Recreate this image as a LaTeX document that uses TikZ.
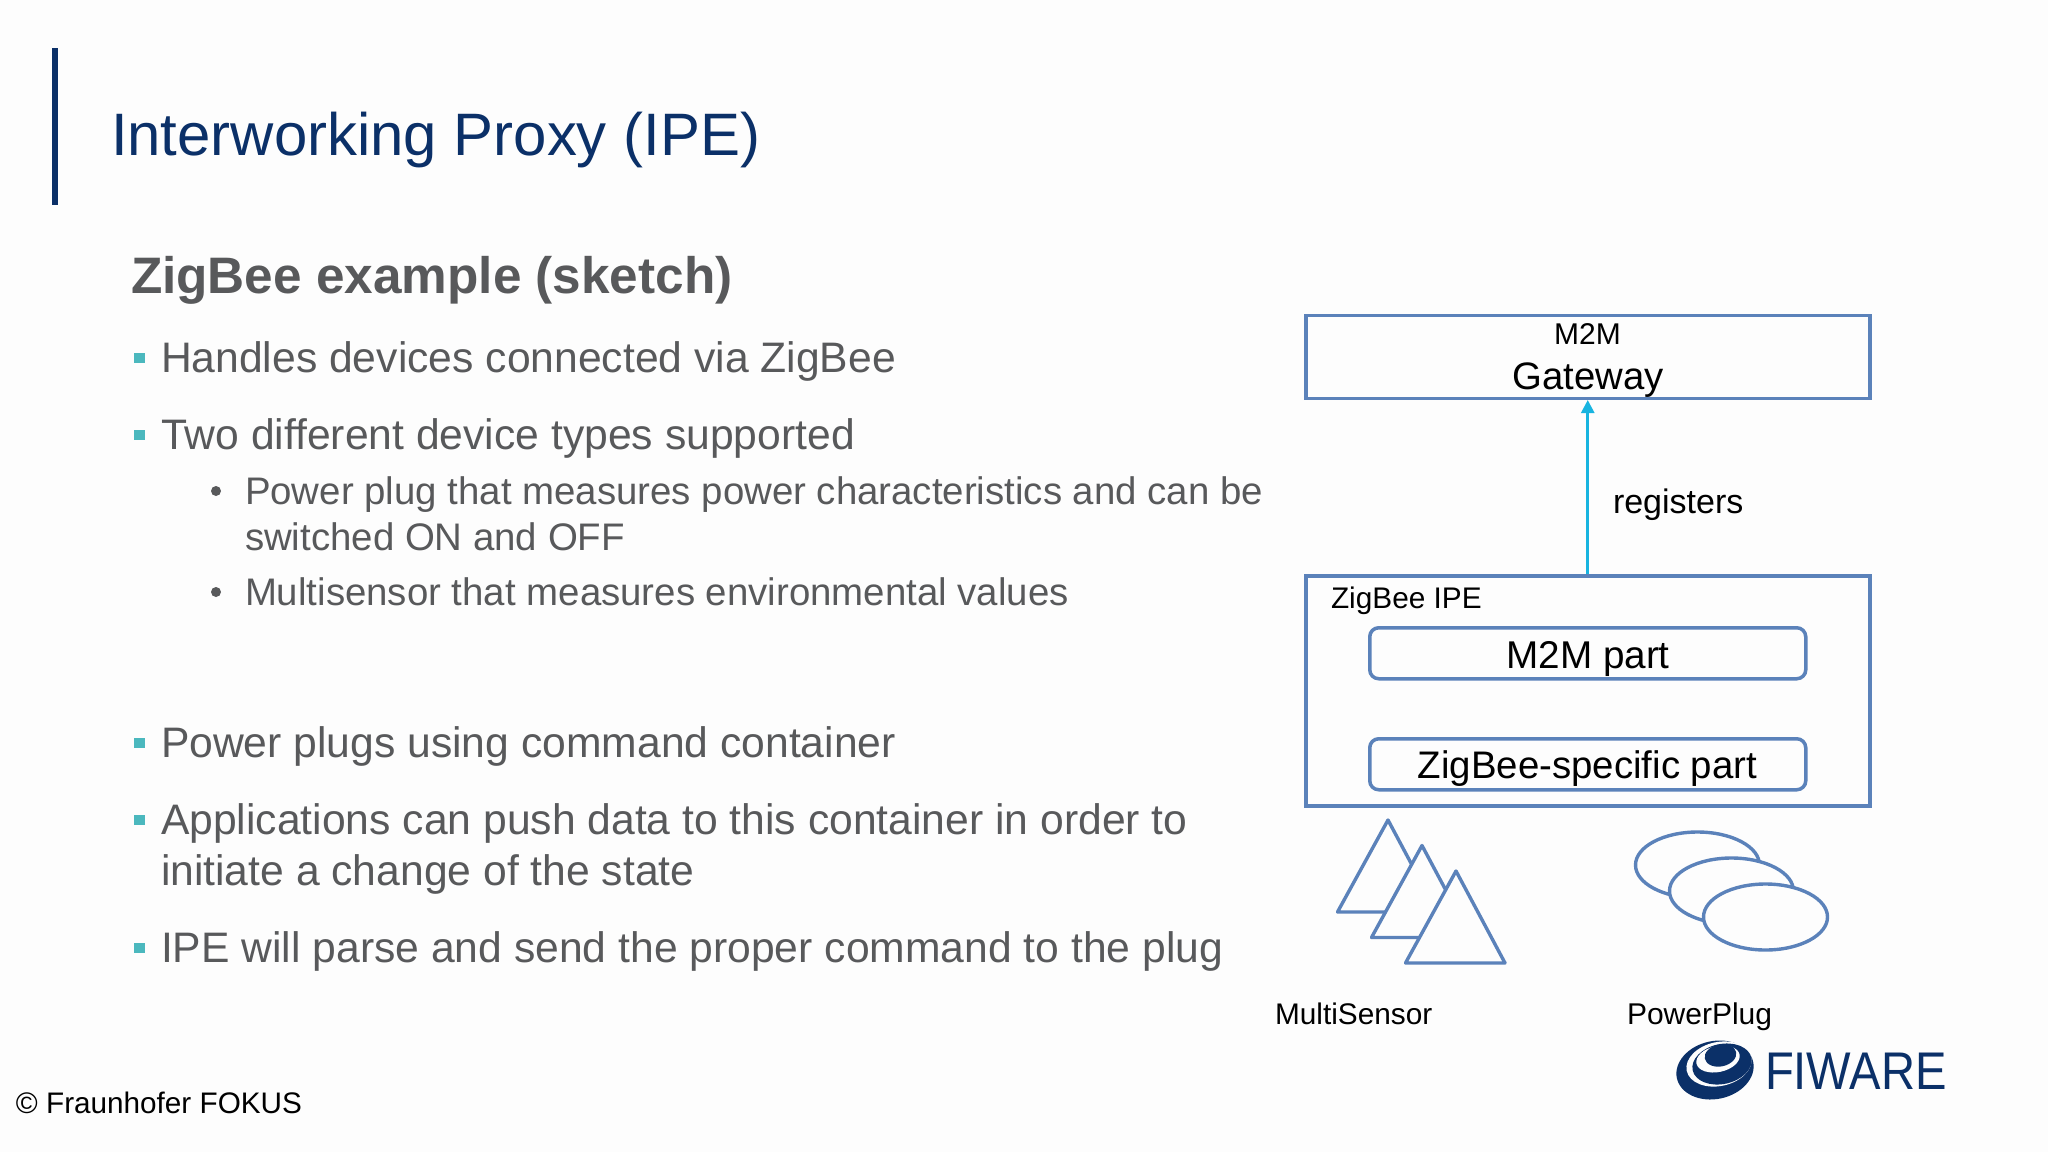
\documentclass[tikz,border=0pt]{standalone}
\usepackage{fontspec}
\setmainfont{Liberation Sans}
\usetikzlibrary{arrows.meta}
\definecolor{navy}{HTML}{0B3068}
\definecolor{bodygrey}{HTML}{58595B}
\definecolor{teal}{HTML}{4BB8BE}
\definecolor{boxblue}{HTML}{5B82BA}
\definecolor{cyanline}{HTML}{18B4E0}
\definecolor{bg}{HTML}{FDFDFD}
\tikzset{
  txt/.style={anchor=base west,inner sep=0pt,outer sep=0pt},
  ctxt/.style={anchor=base,inner sep=0pt,outer sep=0pt,text=black},
  lvla/.style={txt,text=bodygrey,font=\fontsize{42.65}{50}\selectfont},
  lvlb/.style={txt,text=bodygrey,font=\fontsize{38.4}{44}\selectfont},
  sq/.style={fill=teal,draw=none,minimum width=11pt,minimum height=10pt,inner sep=0pt,anchor=center},
  dot/.style={circle,fill=bodygrey,draw=none,minimum size=10pt,inner sep=0pt,anchor=center},
  blue box/.style={draw=boxblue,line width=3.5pt,fill=bg,inner sep=0pt,anchor=north west},
  part box/.style={blue box,rounded corners=9pt},
  shp/.style={draw=boxblue,line width=3.4pt,fill=bg,line join=round},
  reg/.style={-{Triangle[length=13pt,width=13pt]},draw=cyanline,line width=2.6pt},
}
\begin{document}
\begin{tikzpicture}[x=1pt,y=-1pt]
\useasboundingbox (0,0) rectangle (2048,1152);
\fill[bg] (0,0) rectangle (2048,1152);
\fill[navy] (51.5,48) rectangle (57.5,205);
\node[txt,text=navy,font=\fontsize{59.9}{70}\selectfont] (title) at (111,155) {Interworking Proxy (IPE)};
\node[txt,text=bodygrey,font=\bfseries\fontsize{51.3}{60}\selectfont] (sub) at (131,293) {ZigBee example (sketch)};
% level one
\node[lvla] (a1) at (161,372.5) {Handles devices connected via ZigBee};
\node[sq] (s1) at (139,358) {};
\node[lvla] (a2) at (161,449.5) {Two different device types supported};
\node[sq] (s2) at (139,435) {};
\node[lvlb] (b1) at (245,504) {Power plug that measures power characteristics and can be};
\node[dot] (d1) at (216,491) {};
\node[lvlb] (b1x) at (245,550) {switched ON and OFF};
\node[lvlb] (b2) at (245,605) {Multisensor that measures environmental values};
\node[dot] (d2) at (216,592) {};
\node[lvla] (a3) at (161,757.5) {Power plugs using command container};
\node[sq] (s3) at (139,743) {};
\node[lvla] (a4) at (161,834.5) {Applications can push data to this container in order to};
\node[sq] (s4) at (139,820) {};
\node[lvla] (a4x) at (161,885.5) {initiate a change of the state};
\node[lvla] (a5) at (161,962.5) {IPE will parse and send the proper command to the plug};
\node[sq] (s5) at (139,948) {};
% boxes
\node[blue box,minimum width=564pt,minimum height=83pt] (gw) at (1304,313.5) {};
\node[ctxt,font=\fontsize{30}{36}\selectfont] (gwa) at (1587.5,344) {M2M};
\node[ctxt,font=\fontsize{38.3}{44}\selectfont] (gwb) at (1588,389) {Gateway};
\node[blue box,minimum width=564pt,minimum height=230pt] (ipe) at (1304,574) {};
\node[txt,text=black,font=\fontsize{29.8}{36}\selectfont] (ipel) at (1331,608) {ZigBee IPE};
\node[part box,minimum width=436pt,minimum height=51pt] (m2m) at (1368,626) {};
\node[ctxt,font=\fontsize{38.7}{44}\selectfont] (m2mt) at (1588,668) {M2M part};
\node[part box,minimum width=436pt,minimum height=51pt] (zb) at (1368,737) {};
\node[ctxt,font=\fontsize{38.4}{44}\selectfont] (zbt) at (1587.5,778) {ZigBee-specific part};
\draw[reg] (ipe.north) -- (gw.south);
\node[txt,text=black,font=\fontsize{34}{40}\selectfont] (regl) at (1613,513) {registers};
% triangles
\foreach \dx/\dy in {-68/-51,-34/-25.5,0/0}{
  \draw[shp,shift={(\dx,\dy)}] (1456,871) -- (1405.5,963) -- (1505,963) -- cycle;
}
% ellipses
\draw[shp] (1697.5,865) ellipse [x radius=62,y radius=33];
\draw[shp] (1731.5,891) ellipse [x radius=62,y radius=33];
\draw[shp] (1765.5,917) ellipse [x radius=62,y radius=33];
\node[txt,text=black,font=\fontsize{29.8}{36}\selectfont] (ms) at (1275,1024) {MultiSensor};
\node[txt,text=black,font=\fontsize{30}{36}\selectfont] (pp) at (1627,1024) {PowerPlug};
\node[txt,text=black,font=\fontsize{29.7}{36}\selectfont] (cr) at (16,1113) {© Fraunhofer FOKUS};
% logo
\fill[navy] (1715,1070) ellipse [x radius=39,y radius=29,rotate=12];
\fill[bg] (1719,1064) ellipse [x radius=33,y radius=22,rotate=12];
\fill[navy] (1722,1064) ellipse [x radius=30,y radius=20,rotate=12];
\fill[bg] (1718,1059) ellipse [x radius=22,y radius=13,rotate=12];
\fill[navy] (1720.5,1055.4) ellipse [x radius=16,y radius=11,rotate=12];
\node[txt,text=navy,xscale=0.89,font=\fontsize{53}{60}\selectfont] (fw) at (1765,1089) {FIWARE};
\end{tikzpicture}
\end{document}
